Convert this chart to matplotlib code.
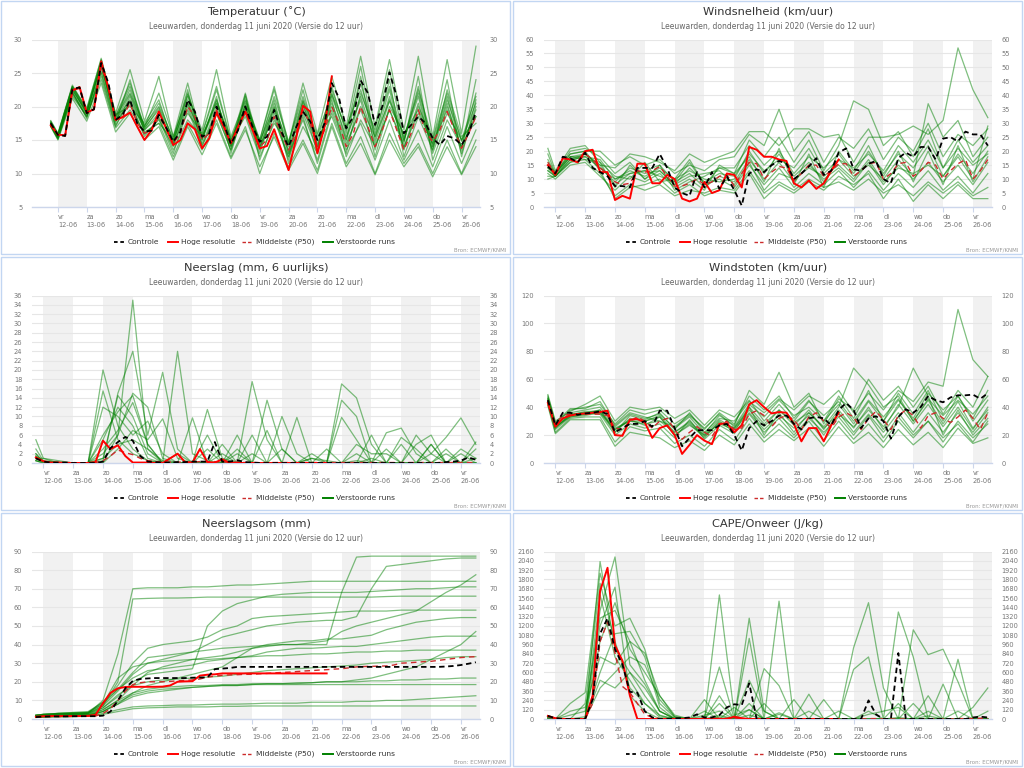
import numpy as np
import matplotlib.pyplot as plt
from matplotlib.lines import Line2D
from matplotlib.patches import Rectangle

# -----------------------------
# Time axes (days after 12-06 00 UTC)
# -----------------------------
t6 = np.arange(60) * 0.25 - 0.25                       # 6-hourly, control / P50
t_hres = t6[:40]                                       # high resolution run stops at +10 days
t12 = np.concatenate(([-0.25], np.arange(30) * 0.5))   # perturbed members, 12-hourly

day_names = ["vr", "za", "zo", "ma", "di", "wo", "do", "vr", "za", "zo", "ma", "di", "wo", "do", "vr"]
day_dates = [f"{d}-06" for d in range(12, 27)]
subtitle = "Leeuwarden, donderdag 11 juni 2020 (Versie do 12 uur)"

# -----------------------------
# Temperatuur
# -----------------------------
temp_ctrl = [17.5, 15.75, 15.6, 22.6, 22.85, 19.0, 19.6, 26.5, 23.5, 18.0,
             18.8, 21.0, 17.5, 16.25, 16.4, 18.75, 16.9, 14.75, 16.25, 21.0,
             19.25, 15.5, 16.0, 20.0, 17.5, 14.4, 16.5, 20.0, 17.0, 14.75,
             15.5, 19.5, 16.25, 14.0, 16.75, 19.25, 17.75, 15.0, 17.5, 23.5,
             21.25, 16.75, 18.5, 23.9, 22.0, 17.25, 20.0, 25.1, 21.5, 16.0,
             17.25, 18.5, 17.5, 15.25, 14.25, 15.6, 15.25, 14.25, 16.0, 19.25]
temp_hres = [17.2, 15.8, 15.7, 22.4, 22.9, 19.1, 19.6, 26.75, 22.75, 18.0,
             18.4, 19.1, 17.0, 15.0, 16.5, 19.25, 16.75, 14.25, 15.0, 17.5,
             16.6, 13.75, 15.25, 19.1, 17.0, 14.5, 17.0, 19.25, 16.5, 13.75,
             14.1, 16.6, 13.5, 10.5, 15.0, 20.1, 19.25, 13.0, 17.0, 24.5]
temp_p50 = [17.4, 15.7, 15.6, 22.4, 22.7, 19.0, 19.5, 26.0, 23.0, 18.0,
            18.5, 20.5, 17.5, 16.0, 16.5, 18.5, 16.8, 14.5, 16.0, 20.0,
            18.5, 15.0, 16.0, 19.5, 17.2, 14.5, 16.5, 19.5, 16.8, 14.0,
            15.0, 18.5, 16.0, 13.5, 16.0, 19.5, 17.5, 14.0, 16.5, 20.0,
            17.5, 14.0, 16.0, 20.0, 17.0, 14.0, 16.5, 19.5, 16.5, 13.5,
            16.0, 19.5, 16.25, 14.75, 16.5, 19.25, 16.5, 13.75, 16.0, 18.5]
temp_members = [
    [17.5, 15.6, 22.4, 19.2, 26.0, 18.2, 22.5, 16.8, 19.5, 14.2, 20.5, 15.0, 21.0, 14.0, 21.5, 13.5, 19.0, 12.5, 20.5, 13.0, 22.0, 15.0, 24.5, 13.5, 21.0, 15.5, 22.0, 14.0, 20.5, 13.0, 20.0],
    [17.2, 15.3, 21.8, 18.5, 25.2, 17.5, 24.0, 16.0, 17.5, 15.0, 22.5, 14.0, 19.0, 13.5, 19.5, 14.5, 21.0, 13.0, 18.0, 12.0, 19.5, 14.0, 20.0, 15.5, 24.0, 12.5, 18.5, 13.5, 22.5, 15.5, 17.5],
    [17.8, 15.9, 23.2, 19.5, 27.2, 18.8, 20.0, 17.5, 21.0, 14.5, 19.0, 16.0, 23.0, 15.0, 18.5, 12.5, 17.5, 14.5, 22.5, 14.0, 21.0, 12.5, 18.0, 14.0, 19.5, 14.5, 24.5, 12.0, 18.0, 14.0, 22.0],
    [17.0, 15.1, 22.0, 18.8, 24.5, 17.0, 21.5, 16.5, 18.5, 13.5, 18.0, 15.5, 20.5, 14.5, 22.0, 14.0, 18.5, 12.0, 19.0, 13.5, 23.0, 16.0, 26.0, 15.0, 22.5, 13.5, 20.0, 15.0, 24.0, 12.5, 21.0],
    [17.6, 15.7, 22.8, 19.0, 26.8, 18.5, 23.0, 17.0, 22.0, 15.5, 23.5, 15.0, 21.5, 13.0, 20.5, 15.0, 22.5, 14.0, 20.0, 15.5, 18.5, 13.0, 22.0, 16.5, 25.5, 15.0, 21.5, 13.0, 19.0, 15.0, 18.5],
    [17.3, 15.4, 22.2, 18.2, 25.8, 17.8, 20.5, 15.8, 18.0, 14.0, 20.0, 14.5, 19.5, 14.0, 19.0, 13.0, 20.0, 11.5, 17.0, 13.0, 21.5, 15.5, 21.0, 12.5, 20.0, 16.0, 19.5, 14.5, 21.5, 13.5, 24.0],
    [17.9, 16.0, 23.0, 19.8, 27.0, 19.0, 25.5, 17.8, 24.5, 15.5, 21.5, 16.5, 25.5, 15.5, 21.0, 15.0, 23.0, 14.5, 23.5, 16.0, 24.5, 17.0, 27.5, 17.0, 27.0, 16.5, 27.5, 15.5, 27.0, 16.0, 29.0],
    [17.1, 15.2, 21.5, 18.6, 24.0, 16.8, 19.5, 16.2, 17.5, 12.5, 17.5, 13.5, 18.0, 12.5, 17.0, 10.0, 16.0, 11.0, 15.0, 10.5, 17.5, 11.5, 15.5, 10.0, 16.0, 11.5, 14.5, 10.0, 15.0, 10.0, 15.0],
    [17.4, 15.5, 22.6, 19.1, 26.3, 18.0, 21.0, 16.5, 19.0, 14.8, 21.0, 15.2, 20.0, 14.2, 20.0, 14.0, 19.5, 13.5, 19.5, 14.5, 20.0, 14.5, 19.5, 14.0, 19.5, 14.0, 19.0, 14.5, 19.5, 14.0, 18.5],
    [17.6, 15.8, 22.9, 19.4, 26.6, 18.4, 22.0, 17.2, 20.0, 15.2, 22.0, 15.8, 22.5, 14.8, 20.8, 14.5, 21.5, 14.8, 21.5, 15.0, 22.5, 16.5, 23.5, 16.0, 23.0, 15.0, 23.0, 14.0, 21.0, 15.0, 21.5],
    [17.2, 15.3, 22.1, 18.4, 25.0, 17.2, 20.8, 15.5, 18.2, 13.0, 19.5, 14.2, 19.0, 13.5, 21.8, 12.0, 18.0, 12.5, 18.5, 11.5, 19.0, 13.5, 17.5, 12.0, 18.0, 12.0, 16.5, 11.0, 17.0, 11.5, 16.5],
    [17.5, 15.6, 22.5, 18.9, 26.2, 17.9, 21.8, 16.7, 19.8, 14.4, 21.8, 15.4, 21.0, 14.6, 20.2, 13.8, 20.5, 13.0, 21.0, 14.0, 20.5, 15.0, 21.5, 14.5, 21.5, 13.8, 20.5, 13.5, 20.0, 13.8, 19.5],
    [17.7, 15.8, 23.0, 19.3, 26.5, 18.6, 23.5, 17.0, 20.5, 15.0, 20.5, 15.5, 20.5, 15.2, 19.8, 14.8, 19.8, 14.5, 20.8, 15.8, 21.8, 16.8, 22.5, 15.5, 20.8, 14.8, 22.5, 15.0, 22.0, 14.8, 20.5],
    [17.0, 15.0, 21.2, 17.8, 23.5, 16.2, 19.0, 15.0, 17.0, 12.0, 17.0, 12.8, 17.5, 12.2, 16.5, 11.0, 15.5, 10.5, 14.5, 10.0, 17.0, 11.0, 14.5, 9.8, 15.0, 11.0, 14.0, 9.5, 14.0, 9.8, 14.0],
]

# -----------------------------
# Windsnelheid
# -----------------------------
wind_ctrl = [14.5, 12, 18, 17.5, 16, 19.5, 14, 12.5, 11, 7.5,
             7.5, 7, 14, 14, 14, 19, 14, 7, 5, 4,
             12.5, 7, 12.5, 6.5, 11, 6, 0.5, 12, 13.5, 12.5,
             15, 16.5, 15.5, 10, 12, 14.5, 17.5, 11.5, 13, 19.5,
             21, 13.5, 13, 15.5, 16.5, 10, 8.5, 17.5, 19.5, 18,
             21.5, 21.5, 17, 24.5, 25, 23.5, 27, 26, 26, 22]
wind_hres = [15, 11.5, 17.5, 17, 16, 20, 20.5, 12.5, 12.5, 2.5,
             4, 3, 15.5, 15.5, 8.5, 8.5, 11.5, 10, 3, 2,
             3, 9, 5, 6, 12, 11.5, 7, 21.5, 20.5, 18,
             18, 17, 16.5, 8.5, 7, 9.5, 6.5, 8.5, 13, 17]
wind_p50 = [16, 12, 17.5, 17, 16, 19, 17, 14, 12, 9,
            8, 8.5, 13, 12.5, 13, 14.5, 11, 7.5, 7.5, 8.5,
            10, 8, 9, 11, 11.5, 7.5, 12, 16, 15.5, 10,
            12.5, 14.5, 14, 9.5, 12, 15, 15, 11, 13, 15.5,
            15.5, 11, 13, 15.5, 16, 10, 12, 15.5, 16, 11,
            13, 16, 15, 10, 13, 15.5, 17, 10, 13, 17]
wind_members = [
    [13, 11, 18, 19, 15, 8, 12, 13, 11, 9, 12, 7, 11, 9, 17, 10, 16, 9, 15, 10, 14, 9, 16, 8, 15, 10, 16, 9, 15, 8, 16],
    [16, 12, 20, 21, 18, 12, 16, 10, 15, 6, 9, 11, 14, 14, 22, 15, 20, 12, 18, 14, 19, 12, 20, 12, 19, 14, 22, 11, 19, 12, 20],
    [10, 11, 16, 17, 12, 4, 8, 6, 8, 4, 6, 5, 7, 6, 13, 5, 9, 6, 10, 7, 9, 6, 10, 5, 8, 4, 9, 5, 9, 4, 7],
    [19, 12, 19, 20, 20, 15, 18, 15, 17, 12, 15, 13, 17, 18, 26, 22, 35, 20, 27, 16, 25, 21, 28, 17, 25, 20, 30, 18, 26, 22, 28],
    [14, 11, 17, 18, 14, 9, 14, 12, 13, 8, 14, 9, 12, 11, 19, 13, 17, 14, 21, 12, 17, 14, 19, 13, 22, 16, 24, 14, 21, 15, 19],
    [21, 13, 21, 22, 16, 11, 10, 16, 9, 10, 17, 8, 10, 7, 15, 8, 14, 7, 12, 8, 13, 7, 13, 6, 12, 7, 13, 6, 11, 5, 12],
    [12, 10, 15, 16, 11, 6, 11, 9, 12, 7, 10, 6, 15, 12, 24, 18, 25, 16, 24, 13, 22, 38, 35, 22, 27, 18, 28, 14, 24, 16, 22],
    [15, 12, 18, 18, 17, 10, 13, 11, 14, 10, 13, 10, 9, 10, 20, 12, 19, 11, 16, 9, 17, 11, 15, 10, 17, 11, 37, 25, 31, 18, 25],
    [17, 12, 19, 20, 13, 3, 7, 8, 10, 5, 8, 4, 6, 5, 12, 3, 8, 5, 9, 6, 11, 8, 12, 3, 10, 2, 8, 3, 8, 3, 3],
    [11, 11, 17, 19, 15, 14, 19, 18, 16, 13, 19, 16, 18, 20, 27, 27, 22, 28, 28, 25, 26, 16, 25, 25, 26, 29, 26, 31, 57, 42, 32],
    [14, 12, 18, 17, 16, 7, 15, 10, 13, 8, 11, 12, 13, 8, 16, 6, 12, 10, 14, 11, 15, 10, 17, 9, 14, 12, 15, 11, 18, 10, 29],
    [13, 11, 16, 19, 14, 10, 12, 13, 15, 9, 16, 8, 14, 12, 18, 9, 21, 8, 19, 7, 20, 13, 22, 11, 20, 9, 20, 8, 22, 9, 18],
]

# -----------------------------
# Neerslag (6 uurlijks)
# -----------------------------
rain_ctrl = [1.0, 0.3, 0.1, 0.1, 0.1, 0, 0, 0, 0, 0.3,
             3.2, 4.5, 5.6, 4.8, 1.5, 0.3, 0.2, 0.1, 0.1, 0.2,
             0.2, 0.3, 0.3, 0.3, 4.5, 0.3, 0.3, 0.6, 0.2, 0.1,
             0, 0, 0, 0, 0, 0, 0, 0, 0, 0,
             0, 0, 0, 0, 0, 0, 0, 0, 0, 0,
             0, 0, 0, 0, 0, 0.2, 0.3, 0.5, 1.2, 0.7]
rain_hres = [1.2, 0.4, 0.1, 0.1, 0, 0, 0, 0, 0.2, 4.8,
             3.0, 3.8, 1.5, 0.1, 0.1, 0.1, 0, 0, 1.0, 2.0,
             0.2, 0.1, 3.0, 0.2, 0.1, 0.8, 0, 0, 0, 0,
             0, 0, 0, 0, 0, 0, 0, 0, 0, 0]
rain_p50 = [1.0, 0.3, 0.1, 0.1, 0.1, 0.1, 0, 0, 0.1, 0.5,
            1.5, 2.8, 2.2, 1.8, 1.0, 0.5, 0.3, 0.2, 0.2, 0.2,
            0.2, 0.2, 0.3, 0.3, 0.3, 0.2, 0.2, 0.2, 0.1, 0.1,
            0.1, 0.1, 0.1, 0.1, 0.1, 0.1, 0.1, 0.1, 0.1, 0.1,
            0.1, 0.1, 0.1, 0.1, 0.1, 0.1, 0.1, 0.1, 0.1, 0.1,
            0.1, 0.1, 0.1, 0.1, 0.1, 0.1, 0.1, 0.1, 0.1, 0.1]
rain_members = [
    [1.5, 0.3, 0.1, 0, 0, 2, 6, 35, 3, 0.5, 0, 0, 0, 0, 0, 0, 0, 0, 0, 0, 0, 0, 0.5, 0, 0, 0, 0, 0, 0, 0, 0],
    [3, 0.5, 0.2, 0, 0, 20, 8, 3, 0.5, 0, 0, 0, 0, 0, 0, 0, 0, 0, 0, 0, 0, 17, 14, 4, 0, 0, 0, 0, 0, 0, 0],
    [5, 1, 0.5, 0, 0, 0.5, 15, 24, 6, 19.5, 3, 0, 0, 0, 0, 0, 0, 0, 0, 1, 0.5, 0, 0, 0, 0, 0, 0, 0, 0, 0, 0],
    [0.5, 0, 0, 0, 0, 1, 14.5, 10, 2, 0, 24, 2, 0.5, 0, 0, 17.5, 5, 0, 0, 0, 0, 0, 0, 0, 0, 0, 4, 6, 0, 0, 0],
    [2, 0.2, 0, 0, 0, 5, 12, 8, 1, 0, 0, 0, 11.5, 1, 0, 0, 0, 10, 2, 0, 0, 0, 0, 0, 0, 0, 0, 0, 0, 3, 1],
    [1, 0.2, 0, 0, 0, 3, 7, 13, 4, 0, 0, 9.7, 0, 0, 6, 0, 0, 0, 0, 0, 0, 9.8, 5, 0, 0, 0, 0, 2, 5.5, 9.7, 4],
    [0.5, 0, 0, 0, 0, 12, 10, 6, 9, 2, 0, 0, 0, 0, 0, 0, 13.5, 3, 0, 0, 0, 0, 0, 0, 6.5, 7.5, 2, 0, 0, 0, 0],
    [2, 0.3, 0, 0, 0, 1, 4, 5, 3, 0, 0, 0, 3, 0, 2, 0, 0, 0, 0, 0, 3, 0, 4, 2, 2, 0, 6, 2, 0, 0, 3],
    [1, 0.2, 0, 0, 0, 0, 6, 15, 12, 1, 0, 0, 0, 4, 0, 6, 0, 0, 0, 2, 0, 0, 0, 6, 0, 4, 0, 4, 0, 2, 0],
    [0.5, 0, 0, 0, 0, 15.5, 5, 2, 0.5, 0, 2, 0, 0, 0, 3, 0, 7, 0, 0, 0, 0, 13.5, 10, 0, 3, 0, 0, 0, 3, 0, 1],
    [1, 1, 0, 0, 0, 0, 3, 7, 5, 9.5, 1, 0, 0, 2, 0, 0, 0, 3, 0, 1, 0, 0, 2, 0, 0, 5.5, 3, 0, 2, 0, 0],
    [1.5, 0.3, 0, 0, 0, 6, 11, 14.5, 4, 0, 0, 0, 6, 0, 0, 2, 0, 0, 9.8, 0, 0, 0, 0, 1, 0, 0, 0, 4, 0, 0, 4.5],
]

# -----------------------------
# Windstoten
# -----------------------------
gust_ctrl = [45, 27, 36, 36, 34.5, 35.5, 36, 37, 35, 22,
             25, 28, 28, 30, 26, 37.5, 37.5, 25, 12, 18,
             23.5, 23.5, 23.5, 27, 28, 20, 9, 25, 30, 27,
             30, 34, 34, 28, 24, 32, 33, 32, 27, 38,
             43, 38, 25, 32, 33.5, 30, 17.5, 33, 38.5, 36,
             40, 48, 45, 43.5, 47, 48.5, 48.5, 49, 46, 50]
gust_hres = [43, 26, 32, 34, 35, 35.5, 36, 36.5, 37.5, 20,
             19.5, 31, 31.5, 29, 18, 25, 27, 20, 6.5, 13,
             20, 16, 13.5, 28, 28.5, 22, 27, 42, 45, 40,
             35.5, 36.5, 36, 28, 15.5, 25, 25, 15.5, 27, 36]
gust_p50 = [45, 28, 34, 35, 35, 35, 35, 35, 34, 25,
            24, 30, 33, 30, 25, 30, 32, 24, 17, 22,
            26, 22, 19, 27, 30, 24, 25, 35, 37.5, 34,
            26, 32, 34, 31, 24, 33, 36, 30, 25, 33,
            36, 33, 24, 32, 37, 31, 24, 34, 38, 34,
            25, 34, 36, 32, 29, 33, 38, 32, 24, 36]
gust_members = [
    [44, 25, 35, 36, 38, 22, 32, 30, 33, 20, 28, 18, 30, 22, 40, 28, 38, 27, 38, 24, 38, 25, 40, 24, 42, 28, 42, 26, 40, 24, 40],
    [47, 28, 38, 40, 42, 28, 38, 35, 38, 28, 35, 24, 36, 28, 48, 38, 48, 32, 45, 30, 48, 32, 52, 30, 50, 35, 52, 30, 48, 32, 52],
    [42, 22, 32, 33, 33, 15, 26, 23, 25, 14, 20, 12, 24, 16, 32, 18, 28, 18, 30, 16, 30, 17, 28, 15, 30, 18, 30, 15, 30, 18, 28],
    [46, 27, 36, 38, 40, 26, 35, 32, 35, 25, 33, 21, 34, 27, 52, 42, 65, 40, 50, 28, 46, 38, 60, 45, 55, 40, 55, 35, 52, 40, 62],
    [45, 26, 34, 35, 36, 24, 30, 28, 30, 22, 30, 20, 28, 24, 36, 24, 34, 25, 34, 20, 36, 22, 35, 22, 36, 22, 36, 22, 36, 22, 36],
    [49, 30, 37, 42, 48, 30, 40, 38, 40, 32, 38, 27, 38, 33, 45, 30, 42, 30, 44, 34, 44, 30, 45, 33, 46, 30, 46, 34, 45, 35, 48],
    [41, 21, 31, 31, 31, 12, 22, 20, 18, 11, 16, 9, 20, 13, 28, 15, 24, 16, 25, 12, 26, 14, 22, 11, 24, 13, 22, 11, 25, 14, 18],
    [44, 25, 34, 37, 37, 24, 31, 27, 33, 20, 27, 20, 31, 25, 38, 26, 38, 29, 36, 26, 40, 68, 56, 40, 48, 30, 45, 28, 44, 25, 38],
    [46, 27, 35, 36, 35, 20, 28, 25, 28, 18, 31, 17, 27, 21, 35, 22, 32, 20, 32, 22, 33, 20, 34, 18, 33, 20, 30, 18, 28, 15, 30],
    [43, 24, 33, 34, 36, 22, 34, 31, 36, 24, 36, 22, 32, 30, 44, 36, 46, 38, 48, 42, 52, 36, 50, 38, 52, 44, 58, 55, 110, 74, 62],
    [48, 29, 39, 39, 44, 27, 36, 33, 30, 26, 34, 25, 35, 26, 42, 33, 45, 34, 40, 30, 42, 28, 44, 30, 45, 32, 50, 38, 48, 30, 45],
    [45, 26, 33, 35, 38, 25, 30, 30, 34, 22, 29, 19, 29, 25, 40, 20, 36, 22, 36, 25, 35, 26, 38, 26, 40, 68, 48, 20, 38, 20, 32],
]

# -----------------------------
# Neerslagsom
# -----------------------------
sum_ctrl = [1.0, 1.3, 1.4, 1.4, 1.4, 1.5, 1.5, 1.5, 1.5, 1.8,
            4, 10, 16.5, 20.5, 21.5, 21.8, 22, 22, 22, 22,
            22, 22.2, 22.3, 22.3, 26.8, 27.1, 27.4, 28, 28, 28,
            28, 28, 28, 28, 28, 28, 28, 28, 28, 28,
            28, 28, 28, 28, 28, 28, 28, 28, 28, 28,
            28, 28, 28, 28, 28, 28.2, 28.5, 29, 29.7, 30.5]
sum_hres = [1.2, 1.5, 1.6, 1.6, 1.6, 1.6, 1.6, 1.7, 2.2, 8.5,
            14, 16.5, 17.2, 17.3, 17.3, 17.3, 17.3, 17.4, 18, 20,
            20.2, 20.3, 23.3, 23.8, 24, 24.5, 24.5, 24.5, 24.5, 24.5,
            24.5, 24.5, 24.5, 24.5, 24.5, 24.5, 24.5, 24.5, 24.5, 24.5]
sum_p50 = [1.0, 1.2, 1.3, 1.3, 1.4, 1.4, 1.5, 1.5, 1.6, 3,
           5.5, 10, 15, 18.5, 19.5, 20, 20, 20, 20.2, 20.5,
           20.7, 21, 21.5, 22.5, 23, 23.5, 23.7, 23.8, 24, 24,
           24.3, 24.5, 24.8, 25, 25.2, 25.5, 25.8, 26, 26.3, 26.5,
           26.8, 27, 27.5, 28, 28.2, 28.3, 28.4, 28.5, 29, 30,
           30.2, 30.5, 30.8, 31, 31.5, 32, 32.5, 33, 33.3, 33.5]
sum_members = [
    [2, 2.5, 3, 3.5, 3.5, 8, 16, 25, 33, 34, 35, 36, 37, 38, 38.5, 39, 39.5, 40, 40, 40, 40, 68, 87, 87.5, 87.5, 87.5, 87.5, 87.5, 87.5, 87.5, 87.5],
    [1.5, 2, 2.5, 3, 3, 10, 35, 70, 70.5, 70.5, 70.5, 71, 71, 71.5, 72, 72, 72.5, 73, 73.5, 74, 74, 74, 74, 74, 74, 74, 74, 74, 74, 74, 74],
    [1, 1.5, 2, 2.5, 3, 7, 20, 64.5, 64.8, 65, 65, 65.2, 65.5, 65.5, 65.5, 65.5, 65.5, 65.5, 65.5, 65.5, 65.5, 65.5, 65.5, 65.5, 65.8, 66, 66, 66, 66, 66, 66],
    [2, 2, 2.5, 3, 3, 6, 12, 20, 24, 25, 26, 27, 50, 58, 62, 64, 66, 67, 67.5, 68, 68, 68, 68, 68.5, 69, 69.5, 70, 70, 70.5, 71, 71],
    [1, 1.5, 2, 2, 2.5, 5, 10, 18, 25, 28, 30, 32, 33, 34, 36, 38, 39, 40, 40, 41, 42, 47, 50, 52, 54, 56, 58, 63, 68, 72, 77.5],
    [2, 2.5, 3, 3, 3.5, 9, 18, 30, 38, 40, 41, 42, 44, 48, 50, 54, 55, 55.5, 56, 56.5, 57, 57.5, 58, 58, 58, 58.5, 58.5, 58.5, 58.5, 58.5, 58.5],
    [1, 1, 1.5, 2, 2, 4, 8, 14, 18, 20, 22, 24, 26, 28, 33, 38, 40, 41, 42, 42, 43, 43, 44, 45, 48, 50, 52, 53, 54, 54.5, 54.5],
    [2, 2.5, 3, 3.5, 4, 9, 16, 22, 26, 27, 28, 29, 31, 32, 33, 34, 36, 37, 38, 38, 38.5, 39, 39, 40, 41, 42, 43, 44, 44.5, 44.5, 44.5],
    [1, 1.5, 1.5, 2, 2, 4, 8, 12, 14, 15, 16, 17, 17.5, 18, 18, 18.5, 19, 19, 19, 19.5, 20, 20, 21, 22, 24, 26, 28, 32, 36, 40, 47],
    [1.5, 2, 2, 2.5, 2.5, 6, 13, 18, 20, 21, 21.5, 22, 22.5, 23, 24, 25, 26, 26.5, 27, 27.5, 28, 28.5, 29, 30, 30.5, 31, 31.5, 32, 33, 33.5, 33.5],
    [1, 1.5, 1.5, 2, 2, 5, 10, 14, 16, 17, 17.5, 18, 18, 18.5, 18.5, 19, 19, 19, 19.5, 19.5, 20, 20, 20, 20.5, 20.5, 21, 21, 21.5, 21.5, 22, 22],
    [1, 1.2, 1.5, 1.5, 1.8, 3, 5, 6.5, 7, 7.2, 7.5, 7.5, 7.8, 8, 8, 8.2, 8.5, 8.5, 8.5, 9, 9, 9, 9.5, 9.5, 10, 10, 10.5, 11, 11.5, 12, 12.5],
    [0.8, 1, 1, 1.2, 1.5, 2.5, 4, 5.5, 6, 6.2, 6.5, 6.5, 6.5, 6.8, 6.8, 7, 7, 7, 7, 7, 7, 7, 7, 7, 7, 7, 7, 7, 7, 7, 7],
    [2, 2.5, 3, 3, 3.5, 8, 22, 28, 30, 31, 31.5, 32, 32, 32.5, 33, 33.5, 34, 34, 34.5, 35, 35, 35.5, 36, 36, 36.5, 36.5, 37, 37, 37, 37, 37],
    [1.5, 2, 2.5, 2.5, 3, 7, 15, 24, 30, 32, 34, 36, 40, 44, 46, 48, 50, 51, 52, 52.5, 53, 53, 55, 70, 82, 83, 84, 85, 86, 86.5, 86.5],
    [1, 1.2, 1.5, 1.8, 2, 4, 9, 13, 15, 16, 16.5, 17, 17.5, 18, 18, 18.5, 18.5, 18.5, 18.5, 18.5, 18.5, 18.5, 18.5, 18.5, 18.5, 18.5, 18.5, 18.5, 18.5, 18.5, 18.5],
]

# -----------------------------
# CAPE
# -----------------------------
cape_ctrl = [40, 10, 0, 0, 0, 0, 250, 1100, 1300, 900,
             700, 350, 340, 100, 20, 0, 0, 10, 10, 20,
             60, 20, 20, 50, 150, 190, 180, 460, 0, 0,
             0, 0, 0, 0, 0, 0, 0, 0, 0, 0,
             0, 0, 0, 240, 60, 0, 0, 850, 0, 0,
             0, 0, 0, 0, 0, 0, 0, 20, 30, 20]
cape_hres = [40, 10, 0, 0, 0, 0, 300, 1650, 1950, 950,
             750, 300, 0, 0, 0, 0, 0, 0, 0, 0,
             0, 0, 0, 0, 0, 30, 10, 0, 0, 0,
             0, 0, 0, 0, 0, 0, 0, 0, 0, 0]
cape_p50 = [30, 5, 0, 0, 0, 0, 200, 1000, 1250, 850,
            420, 340, 200, 60, 20, 5, 0, 0, 0, 0,
            0, 0, 5, 10, 10, 10, 5, 0, 0, 0,
            0, 0, 0, 0, 0, 0, 0, 0, 0, 0,
            0, 0, 0, 5, 5, 0, 0, 0, 0, 0,
            0, 0, 0, 0, 0, 5, 5, 5, 10, 10]
cape_members = [
    [40, 10, 0, 0, 2030, 900, 600, 300, 40, 0, 0, 0, 30, 0, 200, 0, 60, 0, 0, 0, 0, 0, 0, 0, 20, 0, 40, 0, 0, 0, 0],
    [20, 0, 0, 30, 1400, 2090, 700, 450, 100, 10, 0, 0, 1600, 50, 120, 0, 0, 0, 0, 0, 0, 0, 0, 0, 0, 0, 0, 0, 0, 0, 0],
    [0, 0, 200, 340, 1880, 1200, 1300, 900, 200, 20, 0, 20, 670, 0, 1300, 100, 0, 0, 0, 0, 0, 0, 0, 0, 0, 0, 0, 0, 0, 0, 0],
    [30, 0, 0, 0, 1000, 1500, 900, 600, 300, 30, 0, 0, 0, 0, 1040, 0, 1520, 0, 0, 0, 0, 920, 1500, 400, 0, 0, 0, 0, 0, 0, 0],
    [10, 0, 0, 0, 600, 1100, 1130, 800, 150, 0, 0, 0, 50, 0, 0, 650, 430, 0, 320, 0, 0, 640, 800, 0, 1380, 800, 0, 0, 0, 0, 0],
    [0, 0, 0, 0, 1600, 800, 500, 200, 20, 0, 0, 250, 0, 0, 0, 0, 0, 250, 0, 250, 0, 0, 0, 0, 0, 1150, 830, 900, 480, 0, 0],
    [0, 0, 0, 0, 1200, 1700, 300, 100, 0, 0, 0, 0, 200, 0, 120, 0, 0, 0, 0, 0, 0, 0, 100, 0, 200, 0, 300, 0, 770, 0, 0],
    [20, 0, 100, 150, 800, 700, 1000, 500, 100, 0, 0, 0, 300, 0, 500, 100, 0, 0, 0, 0, 100, 0, 0, 0, 0, 200, 0, 450, 0, 150, 400],
    [0, 0, 0, 0, 400, 600, 800, 700, 250, 30, 0, 100, 0, 150, 0, 200, 0, 0, 0, 0, 0, 0, 60, 100, 150, 0, 100, 0, 0, 0, 100],
    [30, 0, 0, 200, 1750, 1000, 400, 200, 50, 0, 0, 0, 0, 0, 0, 0, 0, 0, 100, 0, 0, 0, 0, 0, 0, 0, 0, 0, 0, 0, 0],
    [0, 0, 0, 0, 500, 400, 600, 400, 100, 0, 0, 50, 100, 0, 50, 0, 80, 0, 0, 0, 0, 0, 0, 0, 0, 0, 0, 0, 100, 0, 0],
    [10, 0, 50, 100, 1300, 1400, 1000, 850, 300, 50, 0, 0, 0, 0, 0, 0, 0, 0, 0, 0, 0, 0, 0, 0, 0, 0, 0, 0, 0, 0, 0],
]

# -----------------------------
# Panel setup: (col, row, title, ctrl, hres, p50, members, ylim, ystep, xlim)
# -----------------------------
xl_temp = (-0.9, 14.64)
xl_other = (-0.38, 14.64)
panels = [
    (0, 0, "Temperatuur (\u02daC)", temp_ctrl, temp_hres, temp_p50, temp_members, (5, 30), 5, xl_temp),
    (1, 0, "Windsnelheid (km/uur)", wind_ctrl, wind_hres, wind_p50, wind_members, (0, 60), 5, xl_other),
    (0, 1, "Neerslag (mm, 6 uurlijks)", rain_ctrl, rain_hres, rain_p50, rain_members, (0, 36), 2, xl_other),
    (1, 1, "Windstoten (km/uur)", gust_ctrl, gust_hres, gust_p50, gust_members, (0, 120), 20, xl_other),
    (0, 2, "Neerslagsom (mm)", sum_ctrl, sum_hres, sum_p50, sum_members, (0, 90), 10, xl_other),
    (1, 2, "CAPE/Onweer (J/kg)", cape_ctrl, cape_hres, cape_p50, cape_members, (0, 2160), 120, xl_other),
]

W, H = 1024, 768
C_GREEN = "#008000"
C_RED = "#ff0000"
C_P50 = "#cc2b2b"


def fx(px):
    return px / W


def fy(py):
    return 1 - py / H


fig = plt.figure(figsize=(W / 100, H / 100), dpi=100)
fig.patch.set_facecolor("white")

for col, row, title, ctrl, hres, p50, members, (ymin, ymax), ystep, xl in panels:
    ox, oy = 512 * col, 256 * row

    # panel frame
    fig.add_artist(Rectangle((fx(ox + 1), fy(oy + 254)), 509 / W, 253 / H,
                             transform=fig.transFigure, fill=False,
                             ec="#c2d6f2", lw=1.0))

    ax = fig.add_axes([fx(ox + 32), fy(oy + 207), 448 / W, 167.5 / H])

    # day bands
    for k in range(0, 16, 2):
        ax.axvspan(k, k + 1, color="#f1f1f1", lw=0, zorder=0)

    for m in members:
        ax.plot(t12, m, color=C_GREEN, lw=0.9, alpha=0.5, zorder=2)
    ax.plot(t6, p50, color=C_P50, lw=1.0, dashes=(4, 3), zorder=3)
    ax.plot(t_hres, hres, color=C_RED, lw=1.4, zorder=4)
    ax.plot(t6, ctrl, color="black", lw=1.3, dashes=(3, 2), zorder=5)

    ax.set_xlim(xl)
    ax.set_ylim(ymin, ymax)
    ax.set_yticks(np.arange(ymin, ymax + ystep / 2, ystep))
    ax.yaxis.grid(True, color="#e6e6e6", lw=0.8)
    ax.set_axisbelow(True)

    ax.set_xticks(np.arange(15))
    ax.set_xticklabels([f"{n}\n{d}" for n, d in zip(day_names, day_dates)],
                       ha="left", linespacing=1.3)

    for s in ("left", "right", "top"):
        ax.spines[s].set_visible(False)
    ax.spines["bottom"].set_color("#ccd6eb")
    ax.spines["bottom"].set_linewidth(1.0)

    ax.tick_params(axis="x", length=3.6, width=0.8, color="#ccd6eb",
                   labelsize=4.8, labelcolor="#777777", pad=1.5)
    ax.tick_params(axis="y", length=0, labelsize=4.8, labelcolor="#777777",
                   pad=7, labelleft=True, labelright=True)

    # titles
    fig.text(fx(ox + 256), fy(oy + 12), title, ha="center", va="center",
             fontsize=8.2, color="#333333")
    fig.text(fx(ox + 256), fy(oy + 26.5), subtitle, ha="center", va="center",
             fontsize=5.5, color="#666666")

    # legend
    ly = fy(oy + 242)
    items = [
        ((114, 125), 128, "Controle", dict(color="black", lw=1.3, dashes=(2, 1.5))),
        ((168, 178), 181, "Hoge resolutie", dict(color=C_RED, lw=1.4)),
        ((242, 253), 256, "Middelste (P50)", dict(color=C_P50, lw=1.0, dashes=(2.5, 1.5))),
        ((323, 333), 336, "Verstoorde runs", dict(color=C_GREEN, lw=1.4)),
    ]
    for (a, b), tx, label, style in items:
        fig.add_artist(Line2D([fx(ox + a), fx(ox + b)], [ly, ly], **style))
        fig.text(fx(ox + tx), ly, label, ha="left", va="center",
                 fontsize=5.4, color="#333333")

    fig.text(fx(ox + 506), fy(oy + 250), "Bron: ECMWF/KNMI", ha="right",
             va="center", fontsize=4, color="#999999")

fig.savefig("out.png", dpi=100)
